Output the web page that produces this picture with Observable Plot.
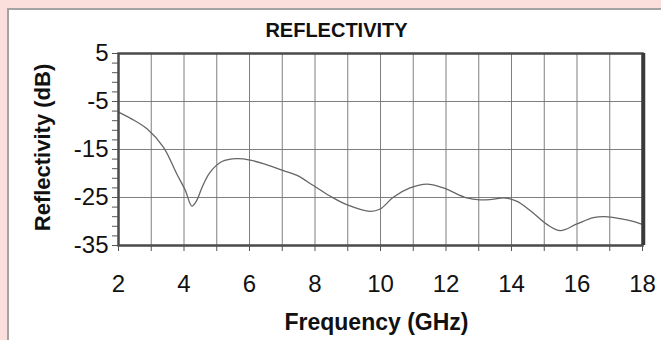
<!DOCTYPE html>
<html>
<head>
<meta charset="utf-8">
<script src="https://cdn.jsdelivr.net/npm/d3@7"></script>
<script src="https://cdn.jsdelivr.net/npm/@observablehq/plot@0.6"></script>
<style>
  html, body { margin: 0; padding: 0; }
  body { width: 661px; height: 340px; background: #fbdfdd; position: relative; overflow: hidden; font-family: "Liberation Sans", Arial, sans-serif; }
  #panel { position: absolute; left: 7px; top: 8px; width: 700px; height: 400px; background: #ffffff; border: 2px solid #a3a3a3; box-sizing: border-box; }
  #chart { position: absolute; left: 0; top: 0; }
</style>
</head>
<body>
<div id="panel"></div>
<div id="chart"></div>
<script>
const freq = [2, 2.5, 2.87, 3.37, 3.78, 4.04, 4.24, 4.39, 4.55, 4.8, 5.16, 5.61, 6.02, 6.53, 7.04, 7.45, 7.95, 8.46, 8.97, 9.69, 9.99, 10.4, 10.9, 11.42, 11.92, 12.64, 13.04, 13.4, 13.81, 14.17, 14.57, 15.08, 15.49, 16.0, 16.5, 16.86, 17.32, 17.68, 18];
const refl = [-7.2, -9.0, -10.7, -14.5, -20.1, -23.5, -26.8, -25.6, -22.9, -19.7, -17.5, -16.9, -17.2, -18.2, -19.4, -20.4, -22.5, -24.7, -26.5, -27.9, -27.4, -24.9, -23.0, -22.2, -23.0, -25.1, -25.5, -25.4, -25.1, -25.8, -27.7, -30.6, -31.9, -30.5, -29.2, -29.0, -29.4, -29.9, -30.6];
const xTickLabels = [2, 4, 6, 8, 10, 12, 14, 16, 18];
const xGrid = d3.range(2, 19, 1);
const yTickLabels = [5, -5, -15, -25, -35];
const yMinor = d3.range(-35, 6, 2);
const title = "REFLECTIVITY";
const xLabel = "Frequency (GHz)";
const yLabel = "Reflectivity (dB)";

const data = freq.map((f, i) => ({f, r: refl[i]}));
const font = "Liberation Sans, Arial, sans-serif";
const fmt = d => String(d);

const chart = Plot.plot({
  width: 661,
  height: 340,
  marginLeft: 118,
  marginRight: 19,
  marginTop: 53,
  marginBottom: 95,
  style: {background: "transparent", fontFamily: font, color: "#111"},
  x: {domain: [2, 18], axis: null, label: null},
  y: {domain: [-35, 5], axis: null, label: null},
  marks: [
    Plot.ruleX(xGrid, {stroke: "#707070", strokeWidth: 0.9}),
    Plot.ruleY(yTickLabels, {stroke: "#707070", strokeWidth: 0.9}),
    Plot.line(data, {x: "f", y: "r", curve: "catmull-rom", stroke: "#666", strokeWidth: 1.3}),
    Plot.frame({stroke: "#4a4a4a", strokeWidth: 2.5}),
    Plot.ruleX([18], {stroke: "#3a3a3a", strokeWidth: 3.5, dx: 1}),
    Plot.axisX(xGrid, {tickSize: 6, tickFormat: () => "", stroke: "#555", label: null}),
    Plot.axisY(yMinor, {tickSize: 6, tickFormat: () => "", stroke: "#555", label: null}),
    Plot.text(xTickLabels, {x: d => d, text: fmt, frameAnchor: "bottom", lineAnchor: "middle", dy: 39, fontSize: 24, fill: "#111"}),
    Plot.text(yTickLabels, {y: d => d, text: fmt, frameAnchor: "left", textAnchor: "end", lineAnchor: "middle", dx: -10, fontSize: 24, fill: "#111"}),
    Plot.text([title], {text: d => d, frameAnchor: "top", dy: -31, dx: -44, fontSize: 20, fontWeight: "bold", fill: "#111"}),
    Plot.text([xLabel], {text: d => d, frameAnchor: "bottom", dy: 84, dx: -4, fontSize: 23, fontWeight: "bold", fill: "#111"}),
    Plot.text([yLabel], {text: d => d, frameAnchor: "left", textAnchor: "middle", rotate: -90, dx: -76, dy: -2, fontSize: 22, fontWeight: "bold", fill: "#111"})
  ]
});
document.getElementById("chart").appendChild(chart);
</script>
</body>
</html>
